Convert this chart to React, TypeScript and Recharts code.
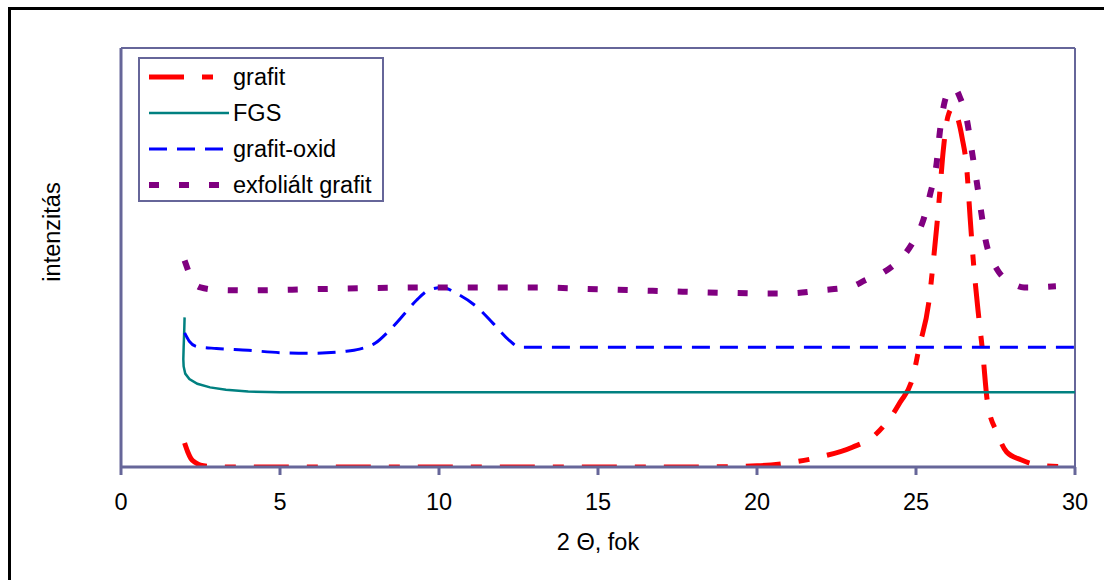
import { LineChart, Line, XAxis, YAxis, ReferenceLine } from 'recharts';

// 2 theta (fok) and intensity values
const grafitX = [2, 2.1, 2.2, 2.35, 2.5, 2.8, 3.5, 6, 10, 14, 18, 20, 21, 22, 23, 23.7, 24.5, 24.9, 25.1, 25.4, 25.55, 25.65, 25.75, 25.85, 26.0, 26.15, 26.3, 26.45, 26.6, 26.7, 26.8, 26.95, 27.1, 27.25, 27.55, 27.85, 28.3, 29, 30];
const grafitY = [0.4, 0.25, 0.14, 0.07, 0.03, 0.01, 0, 0, 0, 0, 0, 0.02, 0.07, 0.17, 0.33, 0.53, 1.08, 1.5, 2.0, 2.74, 3.46, 4.0, 4.6, 5.25, 5.85, 6.0, 5.85, 5.5, 4.96, 4.18, 3.46, 2.62, 1.9, 1.07, 0.57, 0.25, 0.12, 0.02, 0];

const fgsX = [2.0, 1.99, 1.97, 1.96, 1.97, 2.02, 2.15, 2.4, 2.8, 3.3, 4, 5, 8, 12, 20, 30];
const fgsY = [2.5, 2.3, 2.0, 1.8, 1.68, 1.56, 1.47, 1.39, 1.33, 1.29, 1.26, 1.25, 1.25, 1.25, 1.25, 1.25];

const oxidX = [2, 2.15, 2.4, 3, 4, 5, 6, 7, 7.5, 8, 8.4, 8.9, 9.3, 9.7, 10.1, 10.55, 11.2, 11.7, 12.2, 12.55, 20, 30];
const oxidY = [2.24, 2.1, 2.01, 1.98, 1.95, 1.91, 1.9, 1.93, 1.97, 2.07, 2.26, 2.55, 2.79, 2.96, 3.0, 2.9, 2.67, 2.4, 2.12, 2.0, 2.0, 2.0];

const exfolX = [2, 2.1, 2.2, 2.5, 3, 4, 6, 8, 10, 13, 15, 17, 19, 20, 21, 22, 23, 23.4, 24.0, 24.4, 24.7, 25.0, 25.2, 25.45, 25.65, 25.75, 25.9, 26.05, 26.2, 26.4, 26.6, 26.75, 26.9, 27.05, 27.2, 27.4, 27.6, 28.0, 28.4, 29.4];
const exfolY = [3.45, 3.3, 3.15, 3.0, 2.96, 2.95, 2.97, 2.99, 3.0, 3.0, 2.97, 2.94, 2.91, 2.9, 2.9, 2.95, 3.02, 3.12, 3.26, 3.42, 3.59, 3.85, 4.08, 4.57, 5.08, 5.6, 6.1, 6.28, 6.33, 6.15, 5.8, 5.3, 4.8, 4.26, 3.76, 3.45, 3.26, 3.08, 3.0, 3.02];

const xTicks = [0, 5, 10, 15, 20, 25, 30];
const yTicks = [0, 1, 2, 3, 4, 5, 6, 7];

const toPoints = (xs: number[], ys: number[]) => xs.map((x, i) => ({ x, y: ys[i] }));

const series = [
  { name: 'grafit', data: toPoints(grafitX, grafitY), color: '#FF0000', width: 5, dash: '35 18 11 18', type: 'monotone' },
  { name: 'FGS', data: toPoints(fgsX, fgsY), color: '#008080', width: 2.5, dash: undefined, type: 'linear' },
  { name: 'grafit-oxid', data: toPoints(oxidX, oxidY), color: '#0000FF', width: 3, dash: '18 10', type: 'monotone' },
  { name: 'exfoliált grafit', data: toPoints(exfolX, exfolY), color: '#800080', width: 6, dash: '10 20', type: 'monotone' },
];

const axisColor = '#666699';
const font = '"Liberation Sans", Arial, sans-serif';
const fs = 23.5;

export default function App() {
  return (
    <div style={{ position: 'absolute', left: 0, top: 0, width: 1104, height: 580, background: '#fff', fontFamily: font, overflow: 'hidden' }}>
      <div style={{ position: 'absolute', left: 8, top: 7, width: 1200, height: 700, borderTop: '3px solid #000', borderLeft: '3px solid #000' }} />
      <LineChart width={1104} height={580} margin={{ top: 48, right: 29, bottom: 73, left: 61 }} style={{ position: 'absolute', left: 0, top: 0 }}>
        <XAxis
          type="number"
          dataKey="x"
          domain={[0, 30]}
          ticks={xTicks}
          height={40}
          stroke={axisColor}
          strokeWidth={3}
          tickSize={8}
          tickMargin={18}
          tick={{ fontSize: fs, fill: '#000', fontFamily: font }}
          allowDataOverflow
        />
        <YAxis
          type="number"
          dataKey="y"
          domain={[0, 7]}
          ticks={yTicks}
          width={60}
          stroke={axisColor}
          strokeWidth={3}
          tickSize={8}
          tick={false}
          allowDataOverflow
        />
        <ReferenceLine y={7} stroke={axisColor} strokeWidth={2} />
        <ReferenceLine x={30} stroke={axisColor} strokeWidth={2} />
        {series.map((s) => (
          <Line
            key={s.name}
            data={s.data}
            dataKey="y"
            name={s.name}
            type={s.type as 'monotone' | 'linear'}
            stroke={s.color}
            strokeWidth={s.width}
            strokeDasharray={s.dash}
            dot={false}
            activeDot={false}
            isAnimationActive={false}
          />
        ))}
      </LineChart>

      {/* legend */}
      <div style={{ position: 'absolute', left: 138, top: 57, width: 242, height: 141, border: `2px solid ${axisColor}`, background: '#fff' }}>
        {series.map((s, i) => (
          <div key={s.name} style={{ position: 'absolute', left: 7, top: 7 + i * 36, height: 22, display: 'flex', alignItems: 'center' }}>
            <svg width={82} height={12} style={{ display: 'block' }}>
              <line x1={2} y1={6} x2={82} y2={6} stroke={s.color} strokeWidth={s.width} strokeDasharray={s.dash} />
            </svg>
            <span style={{ fontSize: fs, color: '#000', marginLeft: 4, whiteSpace: 'nowrap', lineHeight: '22px' }}>{s.name}</span>
          </div>
        ))}
      </div>

      <div style={{ position: 'absolute', left: 52, top: 232, transform: 'translate(-50%, -50%) rotate(-90deg)', fontSize: fs, whiteSpace: 'nowrap', color: '#000' }}>
        intenzitás
      </div>
      <div style={{ position: 'absolute', left: 598, top: 542, transform: 'translate(-50%, -50%)', fontSize: fs, whiteSpace: 'nowrap', color: '#000' }}>
        2 Θ, fok
      </div>
    </div>
  );
}
